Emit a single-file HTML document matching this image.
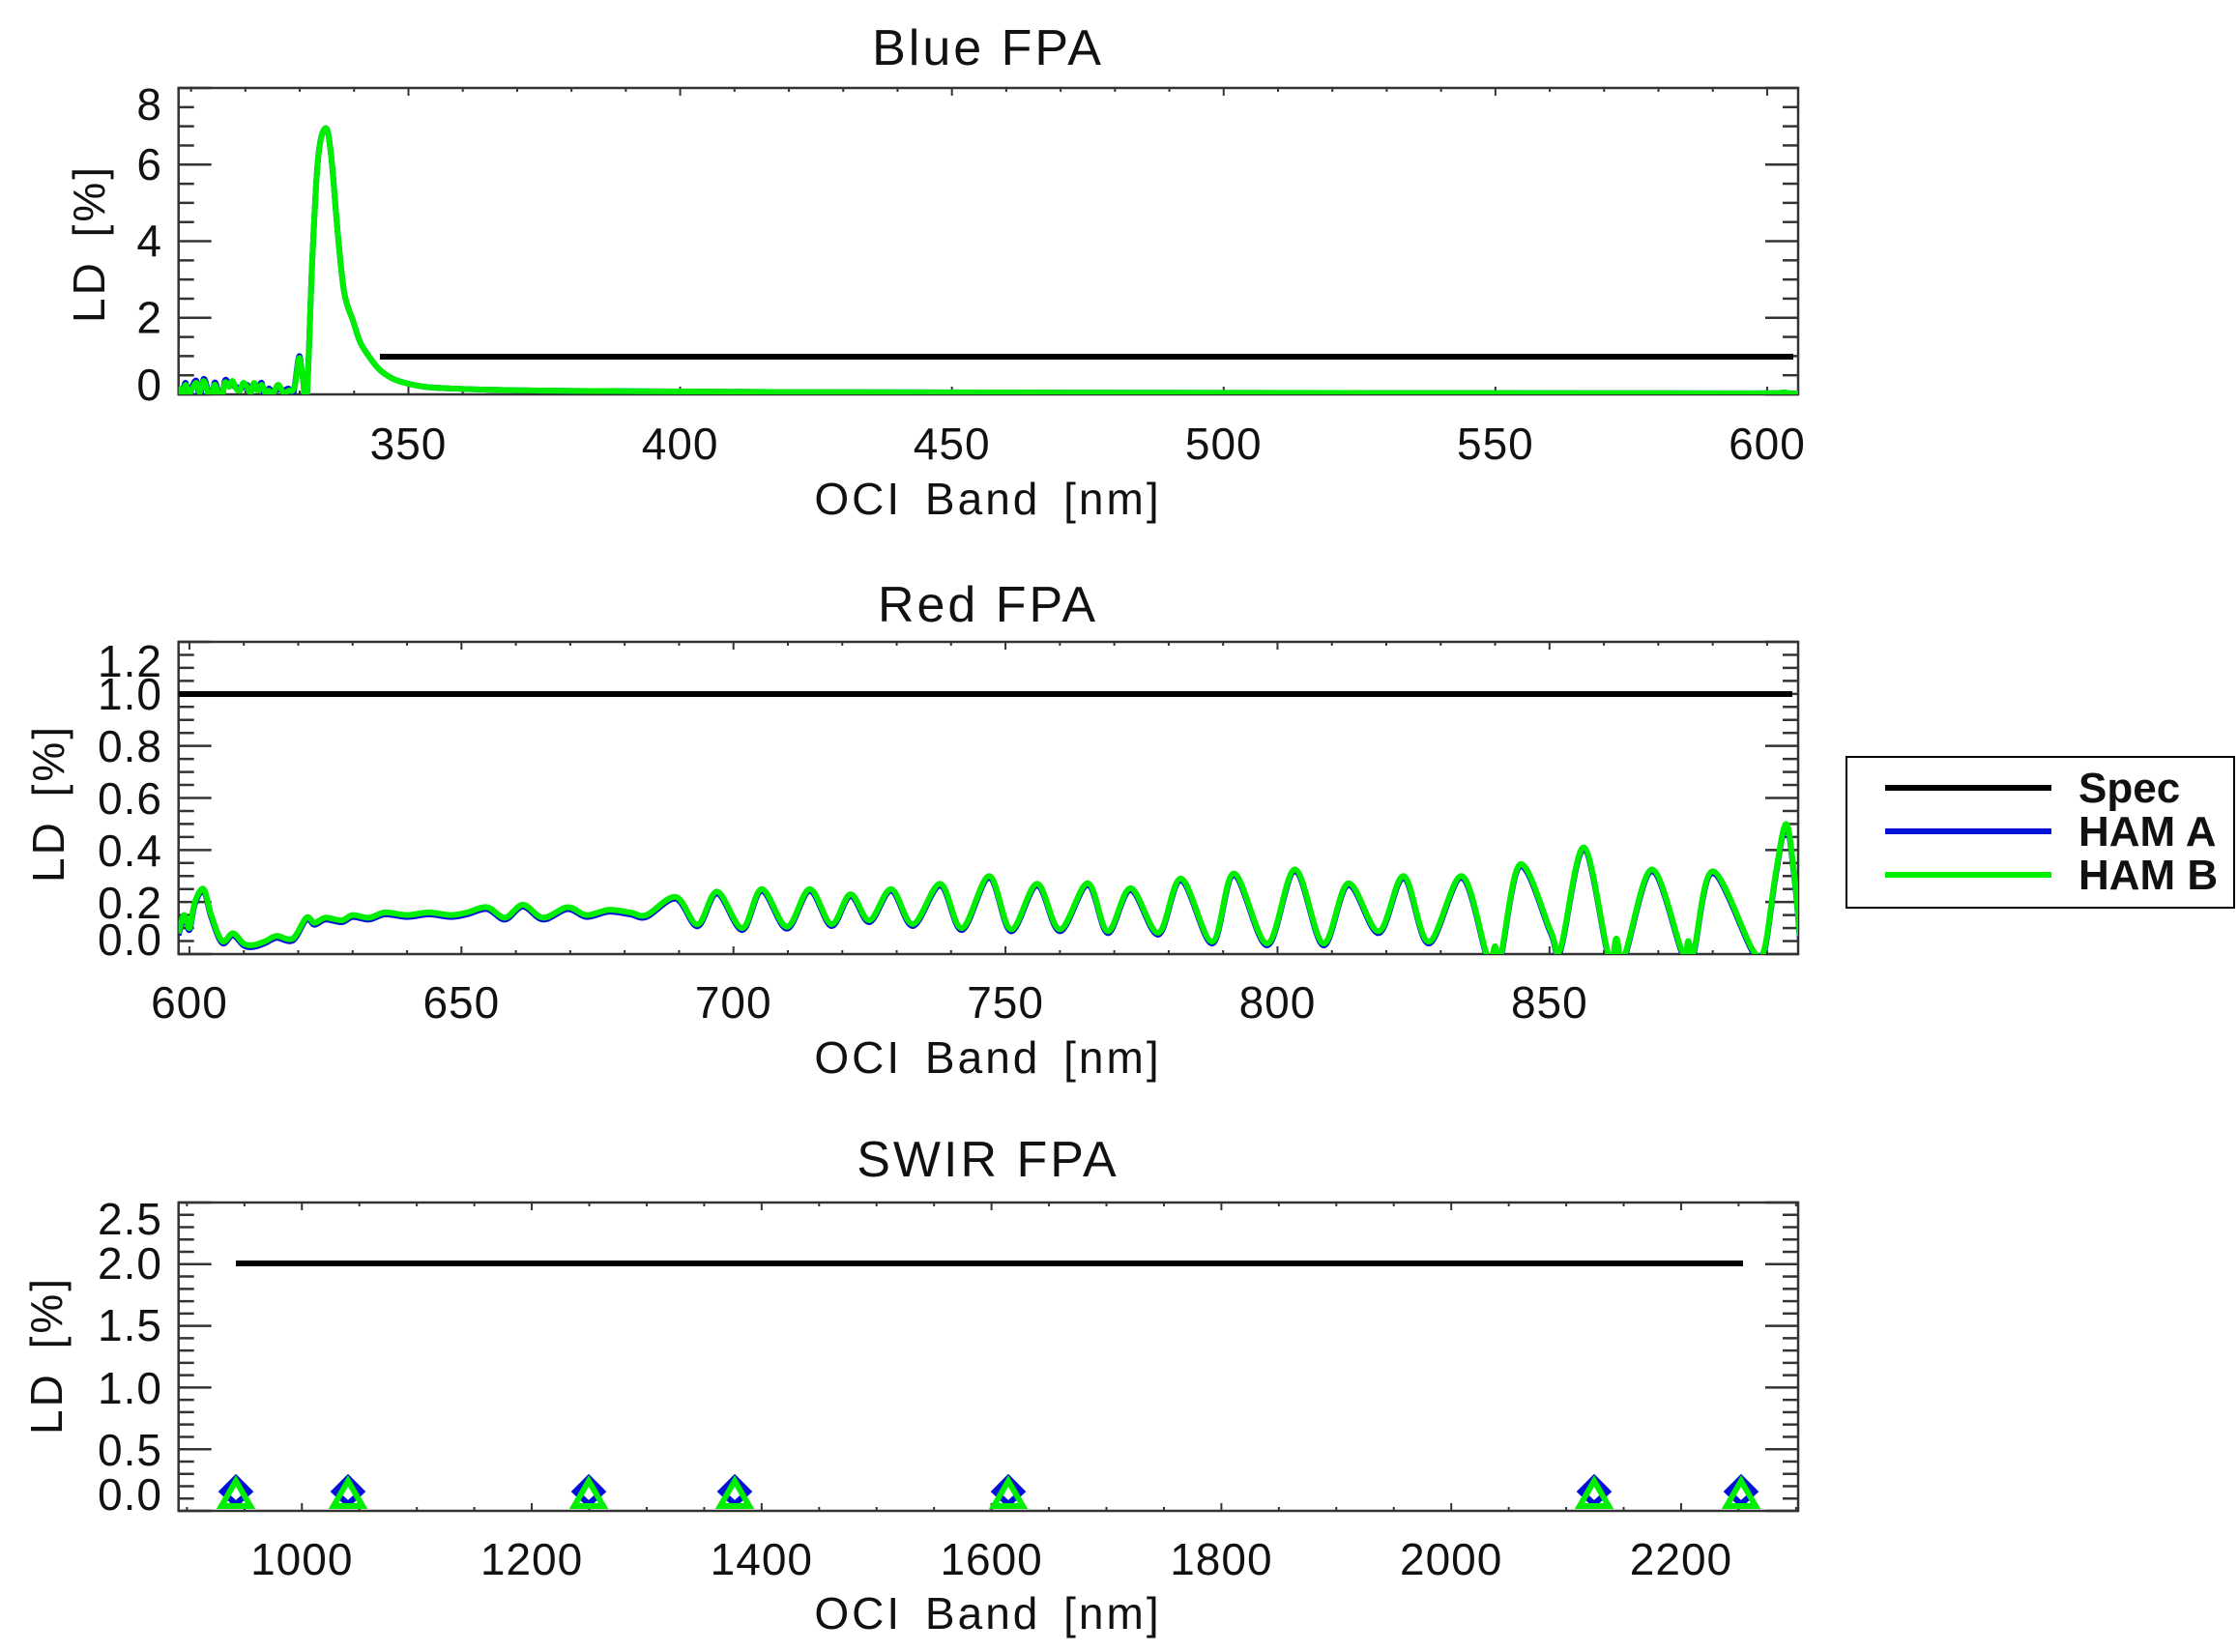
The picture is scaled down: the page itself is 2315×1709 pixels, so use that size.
<!DOCTYPE html>
<html><head><meta charset="utf-8"><style>
html,body{margin:0;padding:0;background:#fff;}
svg{display:block;}
text{font-family:"Liberation Sans",sans-serif;fill:#111;}
.tl{font-size:46px;letter-spacing:1px;}
.ti{font-size:52px;letter-spacing:3px;}
.ax{font-size:46px;letter-spacing:3px;word-spacing:8px;}
.lg{font-size:44px;font-weight:bold;}
</style></head><body>
<svg id="s" width="2315" height="1709" viewBox="0 0 2315 1709" xmlns="http://www.w3.org/2000/svg">
<g id="g"></g>
<text class="ti" x="1022" y="67" text-anchor="middle">Blue FPA</text>
<text class="ti" x="1022" y="643" text-anchor="middle">Red FPA</text>
<text class="ti" x="1022" y="1217" text-anchor="middle">SWIR FPA</text>
<text class="ax" x="1022" y="532" text-anchor="middle">OCI Band [nm]</text>
<text class="ax" x="1022" y="1110" text-anchor="middle">OCI Band [nm]</text>
<text class="ax" x="1022" y="1685" text-anchor="middle">OCI Band [nm]</text>
<text class="ax" transform="translate(108,252) rotate(-90)" text-anchor="middle">LD [%]</text>
<text class="ax" transform="translate(66,831) rotate(-90)" text-anchor="middle">LD [%]</text>
<text class="ax" transform="translate(64,1402) rotate(-90)" text-anchor="middle">LD [%]</text>
<rect x="1910" y="783" width="401" height="156" fill="#fff" stroke="#000" stroke-width="2"/>
<line x1="1950" y1="815" x2="2122" y2="815" stroke="#000" stroke-width="6"/>
<line x1="1950" y1="860" x2="2122" y2="860" stroke="#0010d8" stroke-width="6"/>
<line x1="1950" y1="905" x2="2122" y2="905" stroke="#00ee00" stroke-width="6"/>
<text class="lg" x="2150" y="830">Spec</text>
<text class="lg" x="2150" y="875">HAM A</text>
<text class="lg" x="2150" y="920">HAM B</text>
</svg>
<script>
var NS="http://www.w3.org/2000/svg",G=document.getElementById("g");
function el(t,a,txt){var e=document.createElementNS(NS,t);for(var k in a)e.setAttribute(k,a[k]);if(txt!==undefined)e.textContent=txt;G.appendChild(e);return e;}
var L=184.7,R=1860;
function panel(p){
  var X=function(v){return L+(v-p.x0)/(p.x1-p.x0)*(R-L);};
  var Y=function(v){return p.bot-(v-p.y0)/(p.y1-p.y0)*(p.bot-p.top);};
  p.X=X;p.Y=Y;
  var cid="c"+p.top;
  var d=el("clipPath",{id:cid});var r=document.createElementNS(NS,"rect");
  r.setAttribute("x",L);r.setAttribute("y",p.top);r.setAttribute("width",R-L);r.setAttribute("height",p.bot-p.top);d.appendChild(r);
  p.cid=cid;
  var n=Math.round((p.y1-p.y0)/p.ymin);
  for(var i=0;i<=n;i++){var v=p.y0+i*p.ymin,y=Y(v);
    var maj=Math.abs(v/p.ymaj-Math.round(v/p.ymaj))<1e-6;var len=maj?34:16;
    el("line",{x1:L,y1:y,x2:L+len,y2:y,stroke:"#333","stroke-width":2.5});
    el("line",{x1:R,y1:y,x2:R-len,y2:y,stroke:"#333","stroke-width":2.5});}
  var s=Math.ceil(p.x0/p.xmin)*p.xmin;
  for(var v=s;v<=p.x1+1e-9;v+=p.xmin){var x=X(v);
    var maj=Math.abs(v/p.xmaj-Math.round(v/p.xmaj))<1e-6;var len=maj?8:4;
    el("line",{x1:x,y1:p.bot,x2:x,y2:p.bot-len,stroke:"#333","stroke-width":2});
    el("line",{x1:x,y1:p.top,x2:x,y2:p.top+len,stroke:"#333","stroke-width":2});
    if(maj) el("text",{"class":"tl",x:x,y:p.xly,"text-anchor":"middle"},String(v));}
  el("rect",{x:L,y:p.top,width:R-L,height:p.bot-p.top,fill:"none",stroke:"#333","stroke-width":2.5});
  p.ylabs.forEach(function(a){el("text",{"class":"tl",x:168,y:a[1]+16,"text-anchor":"end"},a[0]);});
}
function line(p,kp,col,w,off){
  var P=kp.map(function(a){return [p.X(a[0]),p.Y(a[1])+(off||0)];});
  var d="M"+P[0][0].toFixed(1)+","+P[0][1].toFixed(1);
  for(var i=0;i<P.length-1;i++){
    var p0=P[Math.max(0,i-1)],p1=P[i],p2=P[i+1],p3=P[Math.min(P.length-1,i+2)];
    var c1=[p1[0]+(p2[0]-p0[0])/6,p1[1]+(p2[1]-p0[1])/6];
    var c2=[p2[0]-(p3[0]-p1[0])/6,p2[1]-(p3[1]-p1[1])/6];
    d+=" C"+c1[0].toFixed(1)+","+c1[1].toFixed(1)+" "+c2[0].toFixed(1)+","+c2[1].toFixed(1)+" "+p2[0].toFixed(1)+","+p2[1].toFixed(1);
  }
  el("path",{d:d,fill:"none",stroke:col,"stroke-width":w,"stroke-linejoin":"round","clip-path":"url(#"+p.cid+")"});}

var p1={x0:307.7,x1:605.7,y0:0,y1:8,top:91,bot:408,xmin:10,xmaj:50,ymin:0.5,ymaj:2,xly:475,
 ylabs:[["8",108],["6",170],["4",249],["2",328.5],["0",398]]};
panel(p1);
var k1=[[307.7,0.2],[308.3,-0.05],[309,0.25],[309.6,0.0],[310.2,0.15],[311,0.3],[311.6,0.05],[312.3,0.35],[313,0.1],[313.6,-0.2],[314.3,0.25],[315,0.0],[315.5,-0.25],[316.2,0.3],[317,0.2],[317.6,0.35],[318.3,0.15],[319,0.1],[319.6,0.3],[320.3,0.2],[321,0.05],[321.6,0.3],[322.3,0.1],[323,0.25],[323.6,0.05],[324.3,0.1],[325,0.0],[326,0.25],[327,0.05],[328,0.1],[328.7,0.1],[329.2,0.3],[329.9,0.95],[330.5,0.5],[331.3,-0.05],[332.3,3.5],[333.4,6.2],[334.8,6.95],[335.8,6.2],[337,4.2],[338.2,2.64],[339.8,1.92],[341,1.4],[342.2,1.1],[344.6,0.66],[347,0.42],[349.4,0.3],[353,0.2],[357.3,0.16],[365,0.12],[380,0.09],[420,0.06],[500,0.04],[580,0.03],[600,0.03],[603,0.05],[605,0.02],[607,0.08]];
el("line",{x1:393,y1:369,x2:1855,y2:369,stroke:"#000","stroke-width":6});
line(p1,k1.map(function(a,i){return [a[0],a[0]<330?a[1]+(i%3==0?-0.12:0.05):a[1]];}),"#0010d8",6);
line(p1,k1,"#00ee00",6);

var p2={x0:598,x1:895.7,y0:0,y1:1.2,top:664,bot:987,xmin:10,xmaj:50,ymin:0.05,ymaj:0.2,xly:1053,
 ylabs:[["1.2",684],["1.0",718],["0.8",772],["0.6",826],["0.4",880],["0.2",934],["0.0",972]]};
panel(p2);
var k2=[[598,0.08],[599,0.15],[600,0.1],[601,0.2],[602.6,0.25],[604,0.15],[606,0.05],[608,0.08],[610,0.04],[611.8,0.035],[614,0.05],[616,0.07],[619,0.06],[621.5,0.14],[623,0.12],[625,0.14],[628,0.13],[630,0.15],[633,0.14],[636,0.16],[640,0.15],[644,0.16],[648,0.15],[651,0.16],[654.7,0.18],[658,0.14],[661.3,0.19],[665,0.14],[669.5,0.18],[673,0.15],[677,0.17],[681,0.16],[684,0.15],[689.4,0.22],[693.4,0.114],[697,0.24],[701.6,0.1],[705.2,0.25],[709.8,0.105],[714,0.25],[718,0.115],[721.5,0.23],[725,0.13],[729,0.25],[733,0.115],[738,0.27],[742,0.1],[747,0.3],[751,0.095],[755.8,0.27],[760,0.095],[765.1,0.272],[768.8,0.088],[773,0.253],[778.1,0.082],[782.3,0.29],[788,0.048],[792,0.31],[798.1,0.041],[803.2,0.325],[808.4,0.041],[813,0.272],[818.6,0.088],[823.2,0.3],[827.8,0.048],[833.9,0.3],[838.6,-0.01],[840,0.03],[841,-0.01],[844.6,0.345],[850.2,0.09],[852,0.02],[856.3,0.41],[860.9,-0.01],[862.3,0.06],[863.7,-0.01],[868.8,0.325],[874.4,0.01],[875.5,0.05],[876.5,0.01],[880,0.318],[887.4,0.014],[889.5,0.02],[891.5,0.3],[893.5,0.5],[895,0.3],[896,0.07]];
el("line",{x1:184.7,y1:718,x2:1854,y2:718,stroke:"#000","stroke-width":6});
line(p2,k2,"#0010d8",6,2);
line(p2,k2,"#00ee00",6);

var p3={x0:892.7,x1:2301.8,y0:0,y1:2.5,top:1244,bot:1563,xmin:50,xmaj:200,ymin:0.1,ymaj:0.5,xly:1629,
 ylabs:[["2.5",1261],["2.0",1307],["1.5",1371],["1.0",1436],["0.5",1500],["0.0",1546]]};
panel(p3);
el("line",{x1:244,y1:1307,x2:1803,y2:1307,stroke:"#000","stroke-width":6});
[244,360,609,760,1043,1649,1801].forEach(function(x){
  var cy=1543;
  el("polygon",{points:[x,cy-14,x+14,cy,x,cy+13,x-14,cy].join(" "),fill:"none",stroke:"#0010d8","stroke-width":6});
  el("polygon",{points:[x,1532,x+15,1558,x-15,1558].join(" "),fill:"none",stroke:"#00ee00","stroke-width":6,"stroke-linejoin":"miter"});
});
</script>
</body></html>
